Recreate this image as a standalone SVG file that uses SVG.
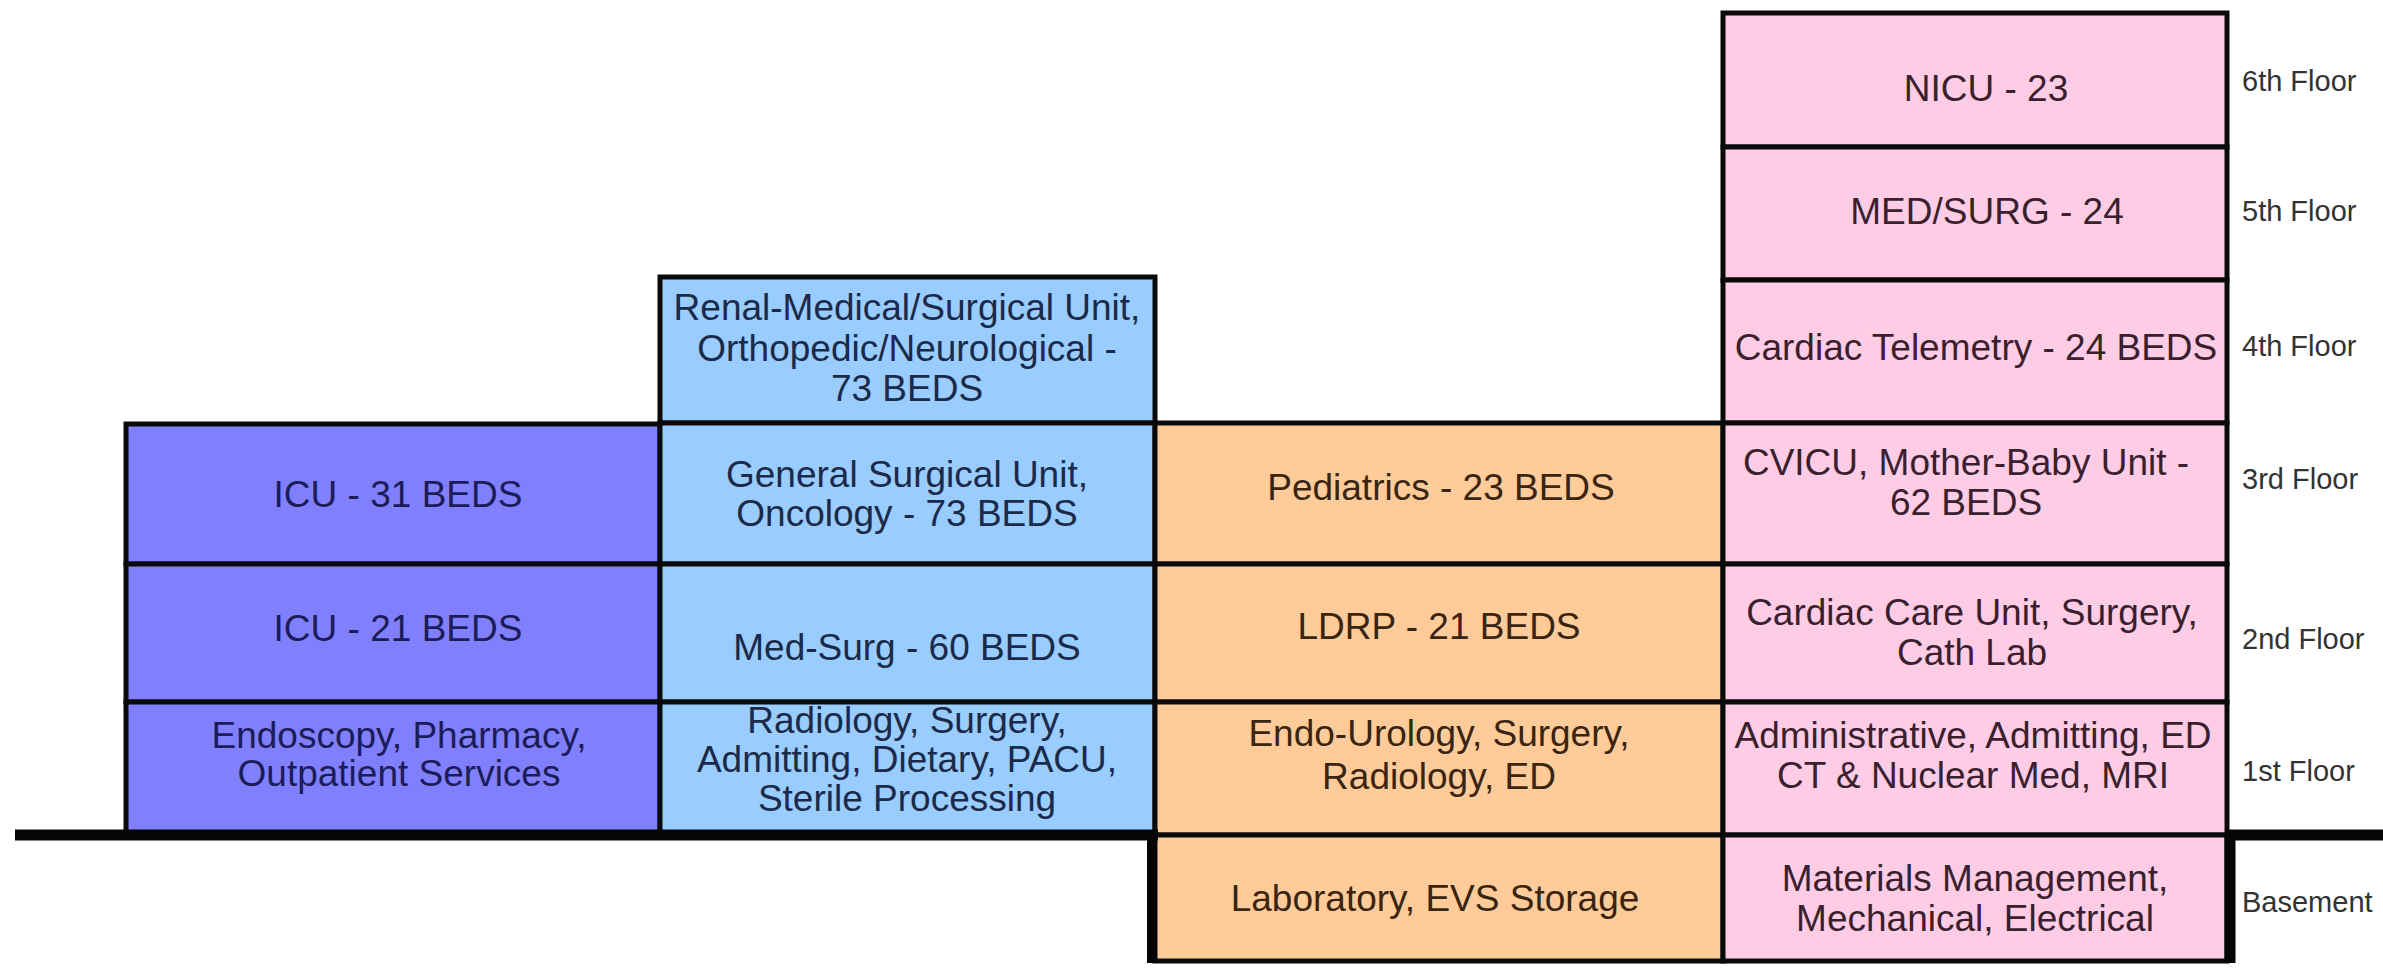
<svg xmlns="http://www.w3.org/2000/svg" width="2383" height="968" viewBox="0 0 2383 968">
<style>
rect.c{stroke:#0a0a0a;stroke-width:5}
.pu{fill:#8080FF}
.bl{fill:#99CCFF}
.or{fill:#FFCC99}
.pk{fill:#FFCCE6}
text{font-family:"Liberation Sans",Arial,sans-serif;font-size:37px;text-anchor:middle}
.tpu{fill:#1c1c58}
.tbl{fill:#1b2a48}
.tor{fill:#3a2412}
.tpk{fill:#3a1f2e}
text.fl{font-size:29px;text-anchor:start;fill:#333333}
</style>
<rect width="2383" height="968" fill="#ffffff"/>

<g id="purple-3">
<rect class="c pu" x="126" y="424" width="534" height="140"/>
<text class="tpu" x="398" y="507">ICU - 31 BEDS</text>
</g>
<g id="purple-2">
<rect class="c pu" x="126" y="564" width="534" height="138"/>
<text class="tpu" x="398" y="641">ICU - 21 BEDS</text>
</g>
<g id="purple-1">
<rect class="c pu" x="126" y="702" width="534" height="133"/>
<text class="tpu" x="399" y="748">Endoscopy, Pharmacy,</text>
<text class="tpu" x="399" y="786">Outpatient Services</text>
</g>

<g id="blue-4">
<rect class="c bl" x="660" y="277" width="495" height="146"/>
<text class="tbl" x="907" y="320">Renal-Medical/Surgical Unit,</text>
<text class="tbl" x="907" y="361">Orthopedic/Neurological -</text>
<text class="tbl" x="907" y="401">73 BEDS</text>
</g>
<g id="blue-3">
<rect class="c bl" x="660" y="423" width="495" height="141"/>
<text class="tbl" x="907" y="487">General Surgical Unit,</text>
<text class="tbl" x="907" y="526">Oncology - 73 BEDS</text>
</g>
<g id="blue-2">
<rect class="c bl" x="660" y="564" width="495" height="138"/>
<text class="tbl" x="907" y="660">Med-Surg - 60 BEDS</text>
</g>
<g id="blue-1">
<rect class="c bl" x="660" y="702" width="495" height="133"/>
<text class="tbl" x="907" y="733">Radiology, Surgery,</text>
<text class="tbl" x="907" y="772">Admitting, Dietary, PACU,</text>
<text class="tbl" x="907" y="811">Sterile Processing</text>
</g>

<g id="orange-3">
<rect class="c or" x="1155" y="423" width="568" height="141"/>
<text class="tor" x="1441" y="500">Pediatrics - 23 BEDS</text>
</g>
<g id="orange-2">
<rect class="c or" x="1155" y="564" width="568" height="138"/>
<text class="tor" x="1439" y="639">LDRP - 21 BEDS</text>
</g>
<g id="orange-1">
<rect class="c or" x="1155" y="702" width="568" height="133"/>
<text class="tor" x="1439" y="746">Endo-Urology, Surgery,</text>
<text class="tor" x="1439" y="789">Radiology, ED</text>
</g>
<g id="orange-b">
<rect class="c or" x="1155" y="835" width="568" height="126"/>
<text class="tor" x="1435" y="911">Laboratory, EVS Storage</text>
</g>

<g id="pink-6">
<rect class="c pk" x="1723" y="13" width="504" height="134"/>
<text class="tpk" x="1986" y="101">NICU - 23</text>
</g>
<g id="pink-5">
<rect class="c pk" x="1723" y="147" width="504" height="133"/>
<text class="tpk" x="1987" y="224">MED/SURG - 24</text>
</g>
<g id="pink-4">
<rect class="c pk" x="1723" y="280" width="504" height="143"/>
<text class="tpk" x="1976" y="360">Cardiac Telemetry - 24 BEDS</text>
</g>
<g id="pink-3">
<rect class="c pk" x="1723" y="423" width="504" height="141"/>
<text class="tpk" x="1966" y="475">CVICU, Mother-Baby Unit -</text>
<text class="tpk" x="1966" y="515">62 BEDS</text>
</g>
<g id="pink-2">
<rect class="c pk" x="1723" y="564" width="504" height="138"/>
<text class="tpk" x="1972" y="625">Cardiac Care Unit, Surgery,</text>
<text class="tpk" x="1972" y="665">Cath Lab</text>
</g>
<g id="pink-1">
<rect class="c pk" x="1723" y="702" width="504" height="133"/>
<text class="tpk" x="1973" y="748">Administrative, Admitting, ED</text>
<text class="tpk" x="1973" y="788">CT &amp; Nuclear Med, MRI</text>
</g>
<g id="pink-b">
<rect class="c pk" x="1723" y="835" width="504" height="126"/>
<text class="tpk" x="1975" y="891">Materials Management,</text>
<text class="tpk" x="1975" y="931">Mechanical, Electrical</text>
</g>

<g id="ground">
<line x1="15" y1="835" x2="1158" y2="835" stroke="#050505" stroke-width="11"/>
<line x1="2225" y1="835" x2="2383" y2="835" stroke="#050505" stroke-width="11"/>
<line x1="1152" y1="835" x2="1152" y2="963" stroke="#050505" stroke-width="10"/>
<line x1="2230" y1="835" x2="2230" y2="963" stroke="#050505" stroke-width="11"/>
</g>

<g id="floor-labels">
<text class="fl" x="2242" y="91">6th Floor</text>
<text class="fl" x="2242" y="221">5th Floor</text>
<text class="fl" x="2242" y="356">4th Floor</text>
<text class="fl" x="2242" y="489">3rd Floor</text>
<text class="fl" x="2242" y="649">2nd Floor</text>
<text class="fl" x="2242" y="781">1st Floor</text>
<text class="fl" x="2242" y="912">Basement</text>
</g>
</svg>
